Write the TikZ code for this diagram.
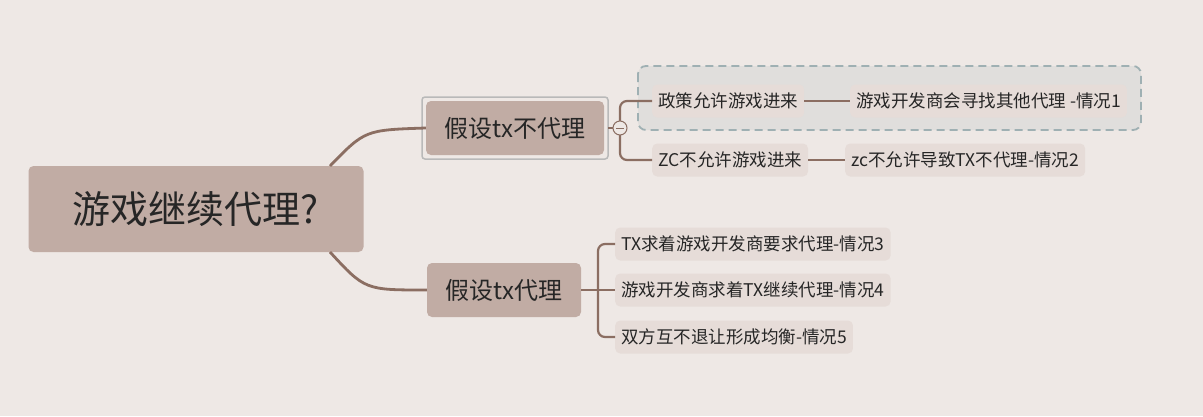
\documentclass[tikz,border=0pt]{standalone}
\usepackage{fontspec}
\setmainfont{Noto Sans CJK SC}
\definecolor{bg}{HTML}{EEE8E5}
\definecolor{topic}{HTML}{C1ACA4}
\definecolor{leaf}{HTML}{E6DCD8}
\definecolor{link}{HTML}{8B6E62}
\definecolor{frame}{HTML}{9FB0B3}
\tikzset{
  root/.style = {fill=topic, rounded corners=5pt, minimum width=335pt, minimum height=86pt, font=\fontsize{38}{42}\selectfont, text=black!85},
  branch/.style = {fill=topic, rounded corners=5pt, minimum height=54pt, font=\fontsize{24}{28}\selectfont, text=black!85},
  item/.style = {fill=leaf, rounded corners=5pt, minimum height=33pt, inner xsep=6pt, font=\fontsize{17.5}{21}\selectfont, text=black!85, anchor=west},
  link/.style = {draw=link, line width=2.8pt},
  twig/.style = {draw=link, line width=2.2pt, rounded corners=7pt}
}
\begin{document}
\begin{tikzpicture}[x=1pt,y=-1pt]
  \fill[bg] (0,0) rectangle (1203,416);
  \useasboundingbox (0,0) rectangle (1203,416);
  % frame around first pair
  \draw[frame, line width=1.8pt, dash pattern=on 8pt off 5pt, fill=frame!18!bg, rounded corners=8pt] (638,66) rectangle (1141,130);
  \node[root] (goal) at (196,209) {游戏继续代理?};
  \draw[gray!55, line width=1.5pt, rounded corners=3pt] (422,97) rectangle (608,159);
  \node[branch, minimum width=178pt] (no) at (515,128) {假设tx不代理};
  \node[branch, minimum width=154pt] (yes) at (504,290) {假设tx代理};
  \node[item] (allow) at (652,101) {政策允许游戏进来};
  \node[item] (case1) at (850,101) {游戏开发商会寻找其他代理 -情况1};
  \node[item] (deny) at (652,160) {ZC不允许游戏进来};
  \node[item] (case2) at (845,160) {zc不允许导致TX不代理-情况2};
  \node[item] (case3) at (615,244) {TX求着游戏开发商要求代理-情况3};
  \node[item] (case4) at (615,290) {游戏开发商求着TX继续代理-情况4};
  \node[item] (case5) at (615,337) {双方互不退让形成均衡-情况5};
  % connectors
  \draw[link] (330,166) .. controls (365,130) .. (no.west);
  \draw[link] (330,252) .. controls (365,290) .. (yes.west);
  \draw[twig] (allow.west) -| (620,128) |- (deny.west);
  \draw[twig] (608,128) -- (613,128);
  \draw[twig] (allow.east) -- (case1.west);
  \draw[twig] (deny.east) -- (case2.west);
  \draw[twig] (case3.west) -| (598,290) |- (case5.west);
  \draw[twig] (yes.east) -- (case4.west);
  \draw[link, line width=1pt, fill=bg] (620,128) circle (7pt);
  \draw[link, line width=1pt] (616,128) -- (624,128);
\end{tikzpicture}
\end{document}
